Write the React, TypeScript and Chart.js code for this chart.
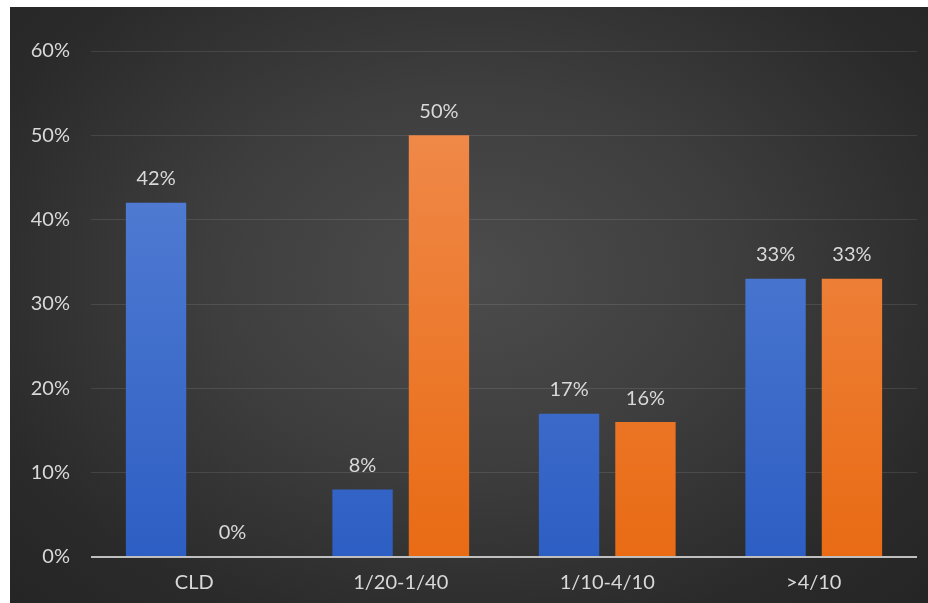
import React, { useEffect, useRef } from "react";
import { Chart, registerables } from "chart.js";

Chart.register(...registerables);

const categories = ["CLD", "1/20-1/40", "1/10-4/10", ">4/10"];
const blueValues = [42, 8, 17, 33];
const orangeValues = [0, 50, 16, 33];
const yTicks = [0, 10, 20, 30, 40, 50, 60];

const FONT = "Lato, 'Open Sans', sans-serif";
const TEXT = "#d9d9d9";

function vGrad(ctx: any, top: string, bottom: string) {
  const chart = ctx.chart;
  const area = chart.chartArea;
  if (!area) return top;
  const g = chart.ctx.createLinearGradient(0, area.top, 0, area.bottom);
  g.addColorStop(0, top);
  g.addColorStop(1, bottom);
  return g;
}

const labelPlugin = {
  id: "barLabels",
  afterDatasetsDraw(chart: any) {
    const c = chart.ctx;
    c.save();
    c.font = `20px ${FONT}`;
    c.fillStyle = TEXT;
    c.textAlign = "center";
    c.textBaseline = "middle";
    chart.data.datasets.forEach((ds: any, i: number) => {
      const meta = chart.getDatasetMeta(i);
      meta.data.forEach((el: any, j: number) => {
        c.fillText(`${ds.data[j]}%`, el.x, el.y - 24);
      });
    });
    c.restore();
  },
};

export default function App() {
  const ref = useRef<HTMLCanvasElement | null>(null);
  useEffect(() => {
    if (!ref.current) return;
    const chart = new Chart(ref.current, {
      type: "bar",
      data: {
        labels: categories,
        datasets: [
          {
            label: "A",
            data: blueValues,
            backgroundColor: (ctx: any) => vGrad(ctx, "#5d86d8", "#2d5ec3"),
            categoryPercentage: 0.74,
            barPercentage: 0.79,
          },
          {
            label: "B",
            data: orangeValues,
            backgroundColor: (ctx: any) => vGrad(ctx, "#f18e52", "#e96b14"),
            categoryPercentage: 0.74,
            barPercentage: 0.79,
          },
        ],
      },
      options: {
        animation: false,
        responsive: true,
        maintainAspectRatio: false,
        layout: { padding: { top: 44, right: 11, left: 0, bottom: 0 } },
        plugins: {
          legend: { display: false },
          tooltip: { enabled: false },
        },
        scales: {
          x: {
            grid: { display: false, drawTicks: false },
            border: { display: false },
            ticks: {
              color: TEXT,
              font: { family: FONT, size: 20 },
              padding: 14,
            },
            afterFit: (s: any) => {
              s.height = 46;
            },
          },
          y: {
            min: 0,
            max: 60,
            afterBuildTicks: (s: any) => {
              s.ticks = yTicks.map((v) => ({ value: v }));
            },
            grid: {
              drawTicks: false,
              color: (ctx: any) =>
                ctx.tick && ctx.tick.value === 0 ? "#bfbfbf" : "rgba(255,255,255,0.1)",
              lineWidth: (ctx: any) => (ctx.tick && ctx.tick.value === 0 ? 2 : 1),
            },
            border: { display: false },
            ticks: {
              color: TEXT,
              font: { family: FONT, size: 20 },
              padding: 21,
              callback: (v: any) => `${v}%`,
            },
            afterFit: (s: any) => {
              s.width = 81;
            },
          },
        },
      },
      plugins: [labelPlugin],
    });
    return () => chart.destroy();
  }, []);
  return (
    <div
      style={{
        position: "absolute",
        left: 10,
        top: 7,
        width: 918,
        height: 596,
        background:
          "radial-gradient(ellipse at 50% 45%, #4c4c4c 0%, #3e3e3e 40%, #2a2a2a 80%, #252525 100%)",
      }}
    >
      <canvas ref={ref} />
    </div>
  );
}
